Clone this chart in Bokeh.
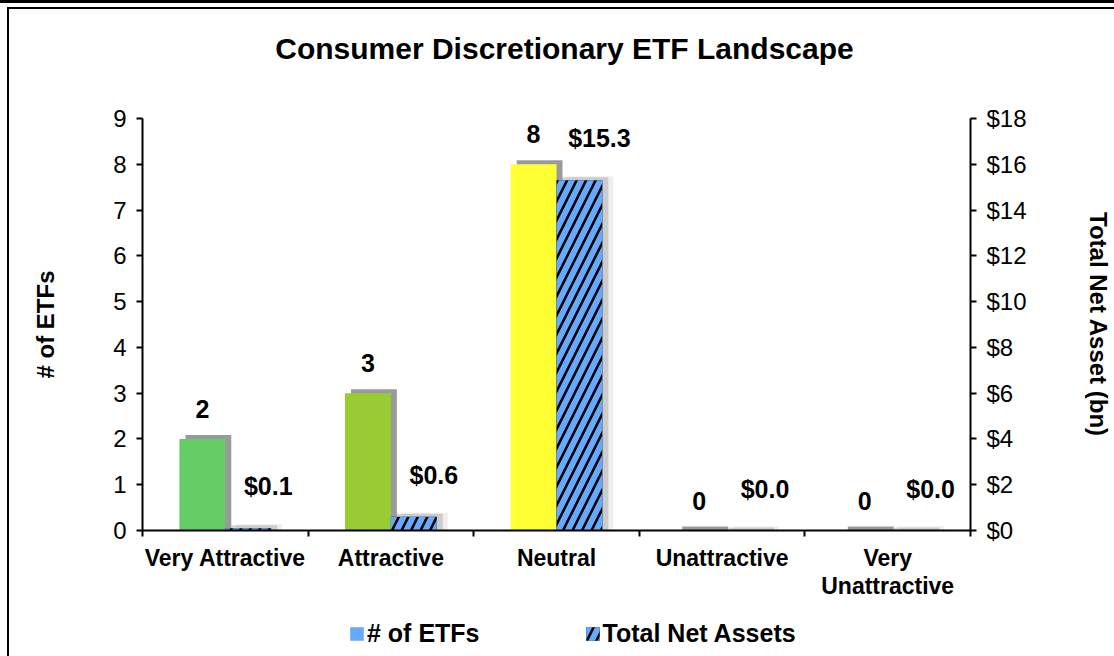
from bokeh.plotting import figure
from bokeh.layouts import column
from bokeh.models import (Range1d, LinearAxis, FixedTicker, PrintfTickFormatter,
                          ColumnDataSource, Legend, LegendItem)
from bokeh.core.properties import value
from bokeh.transform import dodge
from bokeh.embed import file_html
from bokeh.resources import INLINE

# ---- data ----
title_text = "Consumer Discretionary ETF Landscape"
categories = ["Very Attractive", "Attractive", "Neutral", "Unattractive", "Very\nUnattractive"]
num_etfs = [2, 3, 8, 0, 0]
total_net_assets = [0.1, 0.6, 15.3, 0.0, 0.0]
bar_colors = ["#66CC66", "#99CC33", "#FFFF33", "#FF9933", "#FF3333"]
left_ticks = [0, 1, 2, 3, 4, 5, 6, 7, 8, 9]
right_ticks = [0, 2, 4, 6, 8, 10, 12, 14, 16, 18]
series_names = ["# of ETFs", "Total Net Assets"]

FONT = "Liberation Sans"
W = 1114
H_TITLE, H_MAIN, H_LEG = 96, 512, 48
HATCH = dict(fill_color="black", hatch_pattern="/", hatch_color="#66AAFF",
             hatch_weight=6, hatch_scale=19)
LEFT_LINE = "linear-gradient(#000,#000) 7px 0/2px 100% no-repeat"


def strip(height):
    f = figure(width=W, height=height, output_backend="svg", toolbar_location=None,
               x_range=Range1d(0, 1), y_range=Range1d(0, 1),
               min_border_left=0, min_border_right=0, min_border_top=0, min_border_bottom=0)
    f.axis.visible = False
    f.xgrid.visible = False
    f.ygrid.visible = False
    f.outline_line_color = None
    f.border_fill_color = None
    f.background_fill_color = None
    return f


# ---- title strip ----
tf = strip(H_TITLE)
tf.styles = {"background": "linear-gradient(#000,#000) 0 0/100% 3px no-repeat, "
                           "linear-gradient(#000,#000) 7px 7px/100% 2px no-repeat, "
                           "linear-gradient(#000,#000) 7px 7px/2px 100% no-repeat, #fff"}
tf.text(x=[0.5], y=[0.5], text=[title_text], x_offset=8,
        text_align="center", text_baseline="middle", text_font=value(FONT),
        text_font_style="bold", text_font_size="30px", text_color="black")

# ---- main chart ----
p = figure(width=W, height=H_MAIN, output_backend="svg", toolbar_location=None,
           x_range=Range1d(0, len(categories)), y_range=Range1d(0, 9),
           min_border_left=142, min_border_right=142, min_border_top=22,
           min_border_bottom=78)
p.extra_y_ranges = {"tna": Range1d(0, 18)}
p.outline_line_color = None
p.xgrid.visible = False
p.ygrid.visible = False
p.border_fill_color = None
p.background_fill_color = "white"
p.styles = {"background": LEFT_LINE + ", #fff"}

centers = [i + 0.5 for i in range(len(categories))]
bw = 0.277
half = bw / 2
src = ColumnDataSource(dict(
    xc=[c - half for c in centers],
    xt=[c + half for c in centers],
    cnt=num_etfs,
    tna=total_net_assets,
    col=bar_colors,
    cnt_lbl=[str(v) for v in num_etfs],
    tna_lbl=["${:.1f}".format(v) for v in total_net_assets],
))

# shadows (offset by a few pixels)
px_x = 1.0 / 166
px_y9 = 9.0 / 412
px_y18 = 18.0 / 412
p.vbar(x=dodge("xt", 11 * px_x), top=dodge("tna", 4 * px_y18), bottom=0, width=bw,
       y_range_name="tna", fill_color="#DDDDDD", fill_alpha=0.5, line_color=None, source=src)
p.vbar(x=dodge("xt", 6 * px_x), top=dodge("tna", 3 * px_y18), bottom=0, width=bw,
       y_range_name="tna", fill_color="#AAAAAA", fill_alpha=0.5, line_color=None, source=src)
p.vbar(x=dodge("xc", 6 * px_x), top=dodge("cnt", 4 * px_y9), bottom=0, width=bw,
       fill_color="#888888", fill_alpha=0.85, line_color=None, source=src)

# count bars
p.vbar(x="xc", top="cnt", bottom=0, width=bw, fill_color="col", line_color=None, source=src)
# TNA bars (hatched)
p.vbar(x="xt", top="tna", bottom=0, width=bw, y_range_name="tna",
       line_color=None, source=src, **HATCH)

# labels
p.text(x="xc", y="cnt", text="cnt_lbl", source=src, y_offset=-30,
       text_align="center", text_baseline="middle", text_font=value(FONT),
       text_font_style="bold", text_font_size="25px", text_color="black")
p.text(x="xt", y="tna", text="tna_lbl", source=src, y_range_name="tna",
       x_offset=20, y_offset=-42,
       text_align="center", text_baseline="middle", text_font=value(FONT),
       text_font_style="bold", text_font_size="25px", text_color="black")

# x axis
xa = p.xaxis[0]
xa.ticker = FixedTicker(ticks=centers, minor_ticks=[float(i) for i in range(len(categories) + 1)])
xa.major_label_overrides = {c: cat for c, cat in zip(centers, categories)}
xa.major_tick_out = 0
xa.major_tick_in = 0
xa.minor_tick_out = 6
xa.minor_tick_in = 0
xa.minor_tick_line_color = "black"
xa.minor_tick_line_width = 2
xa.axis_line_color = "black"
xa.axis_line_width = 2
xa.major_label_text_font = FONT
xa.major_label_text_font_style = "bold"
xa.major_label_text_font_size = "23px"
xa.major_label_text_color = "black"
xa.major_label_text_line_height = 1.1
xa.major_label_standoff = 8

# left axis
ya = p.yaxis[0]
ya.ticker = FixedTicker(ticks=left_ticks)
ya.major_tick_out = 6
ya.major_tick_in = 0
ya.minor_tick_out = 0
ya.minor_tick_in = 0
ya.axis_line_color = "black"
ya.axis_line_width = 2
ya.major_tick_line_width = 2
ya.major_label_text_font = FONT
ya.major_label_text_font_size = "24px"
ya.major_label_text_color = "black"
ya.major_label_standoff = 10
ya.axis_label = series_names[0]
ya.axis_label_text_font = FONT
ya.axis_label_text_font_style = "bold"
ya.axis_label_text_font_size = "24px"
ya.axis_label_text_color = "black"
ya.axis_label_standoff = 51

# right axis
ra = LinearAxis(y_range_name="tna", ticker=FixedTicker(ticks=right_ticks),
                formatter=PrintfTickFormatter(format="$%d"))
ra.major_tick_out = 6
ra.major_tick_in = 0
ra.minor_tick_out = 0
ra.minor_tick_in = 0
ra.axis_line_color = "black"
ra.axis_line_width = 2
ra.major_tick_line_width = 2
ra.major_label_text_font = FONT
ra.major_label_text_font_size = "24px"
ra.major_label_text_color = "black"
ra.major_label_standoff = 10
ra.axis_label = "Total Net Asset (bn)"
ra.axis_label_text_font = FONT
ra.axis_label_text_font_style = "bold"
ra.axis_label_text_font_size = "24px"
ra.axis_label_text_color = "black"
ra.axis_label_standoff = 55
p.add_layout(ra, "right")

# ---- legend strip (separate figure so the legend is not clipped) ----
lg = strip(H_LEG)
lg.styles = {"background": LEFT_LINE + ", #fff"}
r_cnt = lg.vbar(x=[-5], top=[0], width=0.1, fill_color="#66AAFF", line_color=None)
r_tna = lg.vbar(x=[-5], top=[0], width=0.1, line_color=None, **HATCH)
legend = Legend(items=[LegendItem(label=series_names[0], renderers=[r_cnt]),
                       LegendItem(label=series_names[1], renderers=[r_tna])],
                orientation="horizontal", location=(206, 8),
                label_text_font=FONT, label_text_font_style="bold",
                label_text_font_size="25px", label_text_color="black",
                glyph_width=17, glyph_height=17, spacing=104,
                border_line_color=None, background_fill_alpha=0,
                margin=0, padding=0, label_standoff=2)
lg.add_layout(legend)

layout = column(tf, p, lg, spacing=0)
open("out.html", "w").write(file_html(layout, INLINE))
